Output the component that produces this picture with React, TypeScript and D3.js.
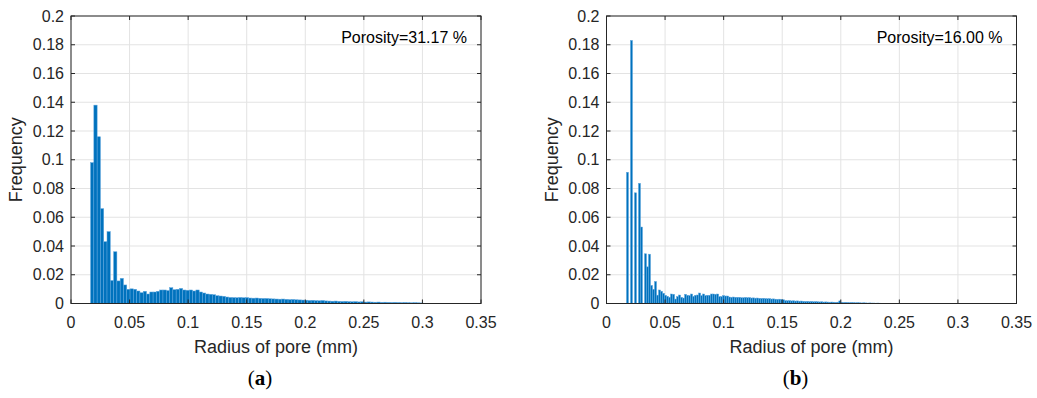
import * as React from "react";
import * as d3 from "d3";

// histogram (a): bin centres start at leftStart, spaced leftStep (mm)
const leftStart = 0.0181;
const leftStep = 0.00281;
const leftFreq = [
  0.098, 0.138, 0.116, 0.066, 0.043, 0.05, 0.016, 0.036, 0.0157, 0.0175,
  0.0129, 0.0099, 0.0102, 0.0099, 0.0087, 0.0075, 0.0085, 0.0066, 0.008, 0.008,
  0.0085, 0.0094, 0.0094, 0.009, 0.011, 0.0096, 0.0099, 0.0105, 0.0094, 0.0092,
  0.0094, 0.0087, 0.0094, 0.008, 0.0073, 0.0066, 0.0064, 0.0061, 0.0054, 0.0052,
  0.005, 0.0045, 0.0042, 0.0041, 0.004, 0.0042, 0.004, 0.0041, 0.0038, 0.0037,
  0.0038, 0.0036, 0.0035, 0.0035, 0.0033, 0.0032, 0.0031, 0.003, 0.0031, 0.0029,
  0.0027, 0.0028, 0.0026, 0.0025, 0.0024, 0.0023, 0.0021, 0.0022, 0.002, 0.0019,
  0.0021, 0.0018, 0.0017, 0.0016, 0.0017, 0.0015, 0.0014, 0.0015, 0.0013, 0.0012,
  0.0013, 0.0011, 0.0012, 0.001, 0.0011, 0.001, 0.0009, 0.001, 0.0008, 0.0009,
  0.0008, 0.0007, 0.0008, 0.0007, 0.0006, 0.0007, 0.0006, 0.0005, 0.0006, 0.0005,
  0.0004,
];

// histogram (b)
const rightStart = 0.0179;
const rightStep = 0.00171;
const rightFreq = [
  0.0913, 0, 0.183, 0, 0.077, 0, 0.0836, 0.0532, 0, 0.0346,
  0.0255, 0.0343, 0.0126, 0.0099, 0.0153, 0.0058, 0.0094, 0.0085, 0.0071, 0.0057,
  0.005, 0.0043, 0.0066, 0.0064, 0.0031, 0.0048, 0.0059, 0.0043, 0.0038, 0.0064,
  0.0057, 0.0055, 0.0066, 0.005, 0.0057, 0.0059, 0.0073, 0.0055, 0.0066, 0.0055,
  0.0057, 0.0057, 0.0066, 0.0066, 0.0064, 0.0066, 0.0048, 0.0048, 0.0055, 0.0052,
  0.0052, 0.0045, 0.0043, 0.0045, 0.0043, 0.0043, 0.0043, 0.004, 0.004, 0.0042,
  0.004, 0.0041, 0.0038, 0.0039, 0.0037, 0.0038, 0.0036, 0.0035, 0.0036, 0.0034,
  0.0033, 0.0034, 0.0031, 0.0032, 0.003, 0.0029, 0.003, 0.0028, 0.0026, 0.002,
  0.0019, 0.002, 0.0018, 0.0019, 0.0017, 0.0018, 0.0016, 0.0017, 0.0015, 0.0014,
  0.0015, 0.0013, 0.0014, 0.0012, 0.0013, 0.0012, 0.0011, 0.0012, 0.001, 0.0011,
  0.001, 0.0009, 0.001, 0.0009, 0.0008, 0.0009, 0.0018, 0.0008, 0.0007, 0.0008,
  0.0007, 0.0006, 0.0007, 0.0006, 0.0005, 0.0006, 0.0005, 0.0004, 0.0005, 0.0004,
  0.0003, 0.0004, 0.0003, 0.0003, 0.0002, 0.0003, 0.0002,
];

const xTicks = [0, 0.05, 0.1, 0.15, 0.2, 0.25, 0.3, 0.35];
const yTicks = [0, 0.02, 0.04, 0.06, 0.08, 0.1, 0.12, 0.14, 0.16, 0.18, 0.2];

const axisColor = "#262626";
const font = "'Liberation Sans', Arial, sans-serif";

interface PanelProps {
  dx: number;
  start: number;
  step: number;
  freq: number[];
  porosity: string;
  label: string;
}

const Panel: React.FC<PanelProps> = ({ dx, start, step, freq, porosity, label }) => {
  const left = 71;
  const right = 481;
  const top = 16;
  const bottom = 303.5;
  const x = d3.scaleLinear().domain([0, 0.35]).range([left, right]);
  const y = d3.scaleLinear().domain([0, 0.2]).range([bottom, top]);
  const bw = x(step) - x(0);

  return (
    <g transform={`translate(${dx},0)`}>
      {/* grid */}
      <g stroke="#e3e3e3" strokeWidth={1}>
        {xTicks.map((t, i) => (
          <line key={i} x1={x(t)} x2={x(t)} y1={top} y2={bottom} />
        ))}
        {yTicks.map((t, i) => (
          <line key={i} x1={left} x2={right} y1={y(t)} y2={y(t)} />
        ))}
      </g>
      {/* bars */}
      <g fill="#0072BD" stroke="#5ea6de" strokeWidth={0.5}>
        {freq.map((f, i) =>
          f > 0 ? (
            <rect
              key={i}
              x={x(start + i * step) - bw / 2}
              y={y(f)}
              width={bw}
              height={y(0) - y(f)}
            />
          ) : null
        )}
      </g>
      {/* box + ticks */}
      <rect x={left} y={top} width={right - left} height={bottom - top} fill="none" stroke={axisColor} strokeWidth={1} />
      <g stroke={axisColor} strokeWidth={1}>
        {xTicks.map((t, i) => (
          <g key={i}>
            <line x1={x(t)} x2={x(t)} y1={bottom} y2={bottom - 4} />
            <line x1={x(t)} x2={x(t)} y1={top} y2={top + 4} />
          </g>
        ))}
        {yTicks.map((t, i) => (
          <g key={i}>
            <line x1={left} x2={left + 4} y1={y(t)} y2={y(t)} />
            <line x1={right} x2={right - 4} y1={y(t)} y2={y(t)} />
          </g>
        ))}
      </g>
      <g fontFamily={font} fontSize={16} fill={axisColor}>
        {xTicks.map((t, i) => (
          <text key={i} x={x(t)} y={328} textAnchor="middle">
            {d3.format("~g")(t)}
          </text>
        ))}
        {yTicks.map((t, i) => (
          <text key={i} x={left - 7} y={y(t)} dy="0.35em" textAnchor="end">
            {d3.format("~g")(t)}
          </text>
        ))}
        <text x={(left + right) / 2} y={353} textAnchor="middle" fontSize={18}>
          Radius of pore (mm)
        </text>
        <text
          transform={`translate(22,${(top + bottom) / 2}) rotate(-90)`}
          textAnchor="middle"
          fontSize={18}
        >
          Frequency
        </text>
        <text x={467} y={43} textAnchor="end" fill="#000">
          {porosity}
        </text>
      </g>
      <text x={260} y={385} textAnchor="middle" fontFamily="'Liberation Serif', 'DejaVu Serif', serif" fontSize={21} fill="#000">
        (<tspan fontWeight="bold">{label}</tspan>)
      </text>
    </g>
  );
};

export default function App() {
  return (
    <svg
      width={1037}
      height={398}
      viewBox="0 0 1037 398"
      style={{ position: "absolute", left: 0, top: 0, background: "#fff" }}
    >
      <rect width={1037} height={398} fill="#fff" />
      <Panel dx={0} start={leftStart} step={leftStep} freq={leftFreq} porosity="Porosity=31.17 %" label="a" />
      <Panel dx={535.5} start={rightStart} step={rightStep} freq={rightFreq} porosity="Porosity=16.00 %" label="b" />
    </svg>
  );
}
